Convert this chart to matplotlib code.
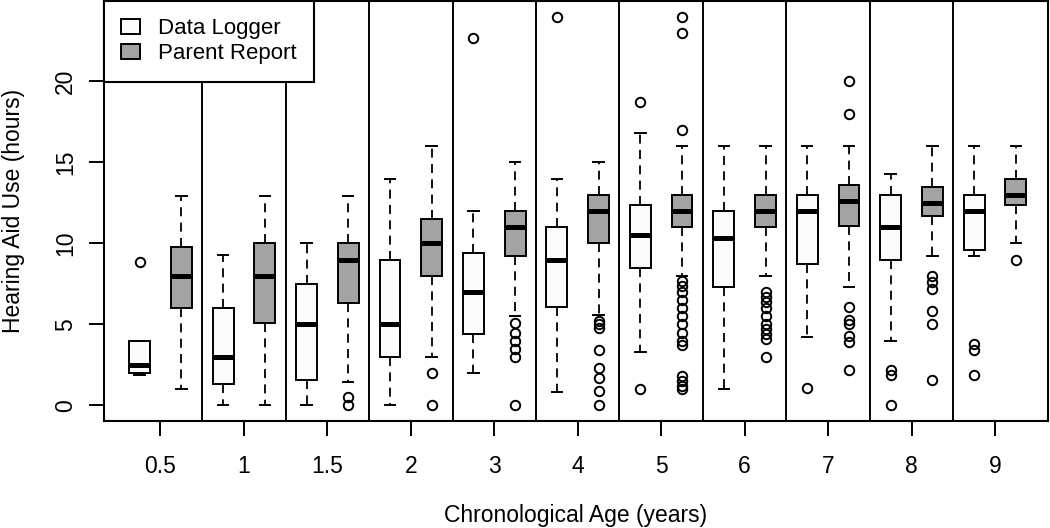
import matplotlib
matplotlib.use("Agg")
import matplotlib.pyplot as plt
from matplotlib.patches import Patch

plt.rcParams['font.family'] = ['Liberation Sans', 'DejaVu Sans']

ages = ["0.5", "1", "1.5", "2", "3", "4", "5", "6", "7", "8", "9"]

# Data Logger box stats (hours)
dl_low = [1.9, 0.0, 0.0, 0.0, 2.0, 0.8, 3.3, 1.0, 4.2, 4.0, 9.2]
dl_q1 = [2.0, 1.3, 1.6, 3.0, 4.4, 6.1, 8.5, 7.3, 8.7, 9.0, 9.6]
dl_med = [2.5, 3.0, 5.0, 5.0, 7.0, 9.0, 10.5, 10.35, 12.0, 11.0, 12.0]
dl_q3 = [3.95, 6.0, 7.5, 9.0, 9.4, 11.0, 12.4, 12.0, 13.0, 13.0, 13.0]
dl_high = [3.95, 9.3, 10.0, 14.0, 12.0, 14.0, 16.8, 16.0, 16.0, 14.3, 16.0]
dl_out = [[8.85], [], [], [], [22.7], [24.0], [18.7, 1.0], [], [1.1],
          [2.2, 1.9, 0.0], [3.8, 3.4, 1.9]]

# Parent Report box stats (hours)
pr_low = [1.0, 0.0, 1.45, 3.0, 5.5, 5.6, 8.0, 8.0, 7.3, 9.2, 10.0]
pr_q1 = [6.0, 5.07, 6.35, 8.0, 9.2, 10.0, 11.0, 11.0, 11.1, 11.7, 12.4]
pr_med = [8.0, 8.0, 9.0, 10.0, 11.0, 12.0, 12.0, 12.0, 12.6, 12.5, 13.0]
pr_q3 = [9.75, 10.0, 10.0, 11.5, 12.0, 13.0, 13.0, 13.0, 13.6, 13.5, 14.0]
pr_high = [12.9, 12.9, 12.9, 16.0, 15.0, 15.0, 16.0, 16.0, 16.0, 16.0, 16.0]
pr_out = [[], [], [0.5, 0.0], [2.0, 0.0],
          [5.1, 4.5, 4.0, 3.5, 3.0, 0.0],
          [5.2, 5.0, 4.8, 3.4, 2.3, 1.7, 0.9, 0.0],
          [24.0, 23.0, 17.0, 7.7, 7.4, 7.0, 6.5, 6.0, 5.5, 5.0, 4.5, 4.0, 3.7,
           1.8, 1.5, 1.2, 1.0],
          [7.0, 6.7, 6.4, 6.0, 5.5, 5.0, 4.7, 4.4, 4.1, 3.0],
          [20.0, 18.0, 6.1, 5.3, 5.0, 4.3, 3.9, 2.2],
          [8.0, 7.6, 7.2, 5.8, 5.0, 1.6],
          [9.0]]


def make_stats(low, q1, med, q3, high, out):
    return [dict(whislo=a, q1=b, med=c, q3=d, whishi=e, fliers=f)
            for a, b, c, d, e, f in zip(low, q1, med, q3, high, out)]


fig = plt.figure(figsize=(10.5, 5.28), dpi=100)
ax = fig.add_axes([104 / 1050, (528 - 421) / 528, 944 / 1050, 420 / 528])

n = len(ages)
dl_pos = [2 * i + 1 for i in range(n)]
pr_pos = [2 * i + 2 for i in range(n)]

common = dict(
    widths=0.5, patch_artist=True, manage_ticks=False,
    whiskerprops=dict(color='black', lw=1.3, linestyle=(0, (5, 3.5))),
    capprops=dict(color='black', lw=1.4),
    medianprops=dict(color='black', lw=3.6, solid_capstyle='butt'),
    flierprops=dict(marker='o', markerfacecolor='none', markeredgecolor='black',
                    markersize=6.8, markeredgewidth=1.4),
)
ax.bxp(make_stats(dl_low, dl_q1, dl_med, dl_q3, dl_high, dl_out), positions=dl_pos,
       boxprops=dict(facecolor='#fcfcfc', edgecolor='black', lw=1.4), **common)
ax.bxp(make_stats(pr_low, pr_q1, pr_med, pr_q3, pr_high, pr_out), positions=pr_pos,
       boxprops=dict(facecolor='#a3a3a3', edgecolor='black', lw=1.4), **common)

# group separators
for i in range(1, n):
    ax.axvline(2 * i + 0.5, color='black', lw=1.4, zorder=1)

ax.set_xlim(0.146, 22.77)
ax.set_ylim(-0.96, 24.96)

ax.set_xticks([2 * i + 1.5 for i in range(n)])
ax.set_xticklabels(ages)
ax.set_yticks([0, 5, 10, 15, 20])
ax.set_yticklabels(['0', '5', '10', '15', '20'], rotation=90, va='center')
ax.tick_params(axis='both', length=10.5, width=1.4, labelsize=16.5, direction='out')
ax.tick_params(axis='x', pad=14)
ax.tick_params(axis='y', pad=9)
for s in ax.spines.values():
    s.set_linewidth(1.5)

ax.set_xlabel('Chronological Age (years)', fontsize=16.5, labelpad=19)
ax.set_ylabel('Hearing Aid Use (hours)', fontsize=16.5, labelpad=21)

handles = [Patch(facecolor='#fcfcfc', edgecolor='black', lw=1.4),
           Patch(facecolor='#a3a3a3', edgecolor='black', lw=1.4)]
leg = ax.legend(handles, ['Data Logger', 'Parent Report'], loc='upper left',
                fontsize=16, frameon=True, fancybox=False, framealpha=1,
                edgecolor='black', borderaxespad=0, borderpad=0.78,
                handlelength=0.85, handleheight=0.7, handletextpad=0.8,
                labelspacing=0.18)
leg.get_frame().set_linewidth(1.5)
leg.set_zorder(5)

fig.savefig('out.png', dpi=100)
